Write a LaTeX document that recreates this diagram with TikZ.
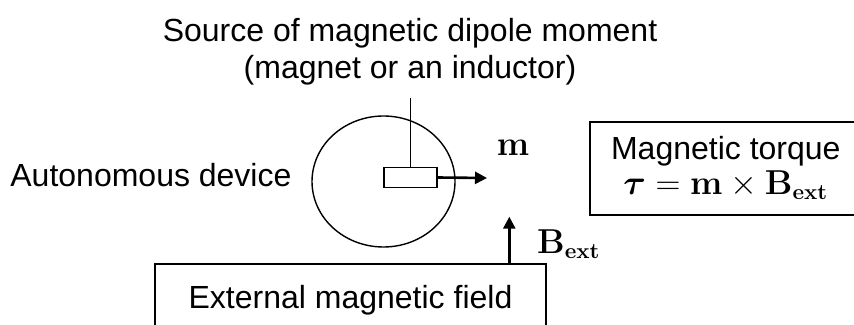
\documentclass[tikz,border=0pt]{standalone}
\usepackage{amsmath,bm}
\usepackage[no-math]{fontspec}
\setmainfont{Liberation Sans}
\usetikzlibrary{arrows.meta,shapes.geometric}

\begin{document}
\begin{tikzpicture}[x=0.5pt,y=-0.5pt,
  lbl/.style={inner sep=0pt,font=\fontsize{16pt}{18.6pt}\selectfont},
  panel/.style={draw,line width=0.8pt,inner sep=0pt,align=center,font=\fontsize{16pt}{16pt}\selectfont},
  body/.style={draw,ellipse,line width=0.7pt,minimum width=71.5pt,minimum height=65.5pt,inner sep=0pt},
  dipole/.style={draw,line width=0.8pt,minimum width=26.5pt,minimum height=10pt,inner sep=0pt},
  vec/.style={-{Triangle[length=6pt,width=6pt]},line width=1.3pt}
]
  \clip (0,0) rectangle (854,325);
  \node[lbl,align=center,anchor=base] (src) at (410,79) {Source of magnetic dipole moment\\(magnet or an inductor)};
  \node[lbl,anchor=base west] (device) at (10,187) {Autonomous device};
  \node[body] (body) at (383.5,181.5) {};
  \node[dipole] (mag) at (410.5,177.5) {};
  \node[lbl,anchor=base] (mlabel) at (513,156) {$\mathbf{m}$};
  \node[panel,minimum width=136pt,minimum height=46.5pt,anchor=north west] (torque) at (589,121) {Magnetic torque\\[1.5pt]$\bm{\tau}=\mathbf{m}\times\mathbf{B}_{\mathbf{ext}}$};
  \node[panel,minimum width=195.5pt,minimum height=36.7pt,anchor=north] (field) at (350.5,263) {External magnetic field};
  \node[lbl,anchor=base west] (blabel) at (536.7,253.3) {$\mathbf{B}_{\mathbf{ext}}$};
  \coordinate (lead) at (410.5,98);
  \coordinate (mtip) at (487,178);
  \coordinate (btip) at (509.3,216.7);
  \draw[line width=0.8pt] (lead) -- (mag.north);
  \draw[vec] (mag.east) -- (mtip);
  \draw[vec] (field.north -| btip) -- (btip);
\end{tikzpicture}
\end{document}
